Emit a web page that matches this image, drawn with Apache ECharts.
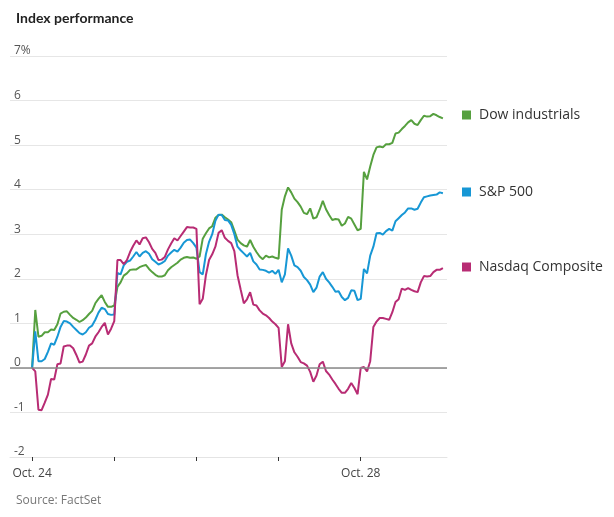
<!DOCTYPE html>
<html><head><meta charset="utf-8">
<script src="https://cdn.jsdelivr.net/npm/echarts@6/dist/echarts.min.js"></script>
<style>html,body{margin:0;padding:0;background:#fff}#c{width:614px;height:517px}</style>
</head><body><div id="c"></div>
<script>
// 15-minute samples, 26 intervals per trading day, Oct. 24 open -> Oct. 28 close
const seriesNames = ['Dow industrials', 'S&P 500', 'Nasdaq Composite'];
const dayLabels = ['Oct. 24', 'Oct. 25', 'Oct. 26', 'Oct. 27', 'Oct. 28'];
const dayStarts = [0, 26, 52, 78, 104];
const labelledDays = [0, 104];
const yTicks = [-2, -1, 0, 1, 2, 3, 4, 5, 6, 7];

const dow = [
  0, 1.30, 0.70, 0.72, 0.80, 0.80, 0.86, 0.85, 0.98, 1.22, 1.26, 1.27, 1.19, 1.12, 1.08, 1.03, 1.07, 1.13, 1.21, 1.28, 1.45, 1.55, 1.63, 1.48, 1.37, 1.37, 1.40,
  1.82, 1.92, 2.07, 2.12, 2.20, 2.21, 2.21, 2.26, 2.29, 2.31, 2.22, 2.15, 2.09, 2.05, 2.05, 2.08, 2.19, 2.26, 2.31, 2.36, 2.43, 2.47, 2.49, 2.47, 2.48, 2.45,
  2.50, 2.90, 3.02, 3.13, 3.18, 3.37, 3.43, 3.44, 3.38, 3.33, 3.27, 3.08, 2.88, 2.80, 2.75, 2.72, 2.87, 2.72, 2.60, 2.50, 2.44, 2.52, 2.48, 2.50, 2.47, 2.45,
  3.55, 3.85, 4.05, 3.94, 3.80, 3.72, 3.62, 3.48, 3.45, 3.58, 3.35, 3.38, 3.55, 3.75, 3.56, 3.43, 3.32, 3.34, 3.33, 3.19, 3.24, 3.39, 3.35, 3.22, 3.09, 3.12,
  4.40, 4.23, 4.52, 4.78, 4.95, 4.97, 4.95, 5.02, 5.02, 5.05, 5.26, 5.28, 5.36, 5.43, 5.51, 5.56, 5.48, 5.45, 5.56, 5.66, 5.64, 5.65, 5.70, 5.67, 5.63, 5.60
];
const sp500 = [
  0, 0.82, 0.15, 0.15, 0.20, 0.36, 0.55, 0.52, 0.70, 0.92, 1.05, 1.04, 1.00, 0.92, 0.85, 0.78, 0.75, 0.80, 0.90, 0.95, 1.08, 1.24, 1.35, 1.32, 1.21, 1.19, 1.20,
  2.13, 2.10, 2.30, 2.38, 2.41, 2.50, 2.60, 2.50, 2.58, 2.62, 2.56, 2.44, 2.38, 2.32, 2.35, 2.40, 2.52, 2.59, 2.65, 2.61, 2.70, 2.81, 2.87, 2.88, 2.80, 2.70,
  2.15, 2.10, 2.55, 2.83, 3.00, 3.30, 3.44, 3.43, 3.32, 3.31, 3.21, 3.00, 2.72, 2.64, 2.57, 2.50, 2.58, 2.39, 2.32, 2.21, 2.20, 2.18, 2.14, 2.18, 2.11, 2.20,
  1.92, 2.10, 2.68, 2.52, 2.30, 2.26, 2.18, 2.04, 1.97, 1.87, 1.70, 1.80, 2.05, 2.15, 2.00, 1.92, 1.82, 1.71, 1.72, 1.59, 1.52, 1.57, 1.74, 1.73, 1.52, 1.55,
  2.22, 2.12, 2.52, 2.72, 3.02, 3.03, 2.99, 3.07, 3.12, 3.08, 3.29, 3.36, 3.43, 3.49, 3.58, 3.58, 3.55, 3.57, 3.71, 3.83, 3.85, 3.87, 3.88, 3.89, 3.94, 3.92
];
const nasdaq = [
  0, -0.08, -0.94, -0.95, -0.78, -0.60, -0.25, -0.26, 0.08, 0.10, 0.48, 0.50, 0.50, 0.44, 0.29, 0.12, 0.14, 0.30, 0.50, 0.55, 0.70, 0.80, 0.92, 1.01, 0.75, 0.88, 1.05,
  2.42, 2.42, 2.33, 2.42, 2.60, 2.74, 2.86, 2.77, 2.91, 2.93, 2.82, 2.67, 2.58, 2.42, 2.43, 2.49, 2.66, 2.79, 2.91, 2.86, 2.96, 3.06, 3.16, 3.15, 3.15, 3.12,
  1.43, 1.55, 2.08, 2.42, 2.55, 2.72, 3.03, 3.09, 2.92, 2.85, 2.80, 2.62, 2.08, 1.76, 1.45, 1.54, 1.70, 1.42, 1.40, 1.29, 1.22, 1.18, 1.12, 1.04, 0.98, 0.90,
  0.02, 0.15, 0.98, 0.55, 0.35, 0.25, 0.13, 0.10, 0.05, -0.09, -0.31, -0.17, 0.08, 0.14, -0.07, -0.15, -0.26, -0.36, -0.47, -0.56, -0.56, -0.47, -0.34, -0.45, -0.59, 0.00,
  0.02, -0.08, 0.15, 0.92, 1.04, 1.12, 1.12, 1.10, 1.08, 1.25, 1.48, 1.54, 1.78, 1.75, 1.79, 1.75, 1.72, 1.70, 1.92, 2.06, 2.05, 2.06, 2.15, 2.20, 2.20, 2.24
];

const colors = ['#56a03f', '#1797d5', '#b82c74'];
const FONT = 'Open Sans';
const toPairs = arr => arr.map((v, i) => [i, v]);
const values = [dow, sp500, nasdaq];

const chart = echarts.init(document.getElementById('c'), null, { renderer: 'canvas' });

const legendTops = [108, 185, 260];
const option = {
  animation: false,
  backgroundColor: '#fff',
  title: [
    { text: 'Index performance', left: 11, top: 6,
      textStyle: { fontFamily: 'Lato', fontWeight: 'bold', fontSize: 14, color: '#222' } },
    { text: 'Source: FactSet', left: 11, top: 490,
      textStyle: { fontFamily: FONT, fontWeight: 'normal', fontSize: 12, color: '#777' } }
  ],
  grid: { left: 10, right: 167, top: 56, bottom: 60 },
  xAxis: {
    type: 'value', min: -7, max: 131.3,
    axisLine: { show: true, onZero: false, lineStyle: { color: '#e4e4e4', width: 1 } },
    axisTick: { show: true, customValues: dayStarts, length: 4, lineStyle: { color: '#333' } },
    axisLabel: { customValues: labelledDays, formatter: v => dayLabels[dayStarts.indexOf(v)],
      margin: 11, fontFamily: FONT, fontSize: 12, color: '#444' },
    splitLine: { show: false }
  },
  yAxis: {
    type: 'value', min: yTicks[0], max: yTicks[yTicks.length - 1], interval: 1,
    axisLine: { show: false }, axisTick: { show: false },
    axisLabel: { inside: true, margin: 4, verticalAlign: 'bottom', padding: [0, 0, -1, 0],
      formatter: v => v === 7 ? '7%' : String(v),
      fontFamily: FONT, fontSize: 12, color: '#555' },
    splitLine: { lineStyle: { color: '#e6e6e6', width: 1 } }
  },
  legend: seriesNames.map((n, k) => ({
    data: [n], left: 462, top: legendTops[k], padding: 0, icon: 'rect',
    itemWidth: 9, itemHeight: 9, selectedMode: false,
    textStyle: { fontFamily: FONT, fontSize: 14, color: '#333', padding: [0, 0, 0, 3] }
  })),
  series: [
    { type: 'line', name: 'zero', data: [], z: 1, silent: true,
      markLine: { silent: true, symbol: 'none', label: { show: false },
        lineStyle: { color: '#888', width: 1.6, type: 'solid' }, data: [{ yAxis: 0 }] } }
  ].concat(seriesNames.map((n, k) => ({
    type: 'line', name: n, data: toPairs(values[k]), showSymbol: false, z: 3,
    color: colors[k], lineStyle: { width: 2, color: colors[k] },
    emphasis: { disabled: true }
  })))
};
chart.setOption(option);
</script>
</body></html>
